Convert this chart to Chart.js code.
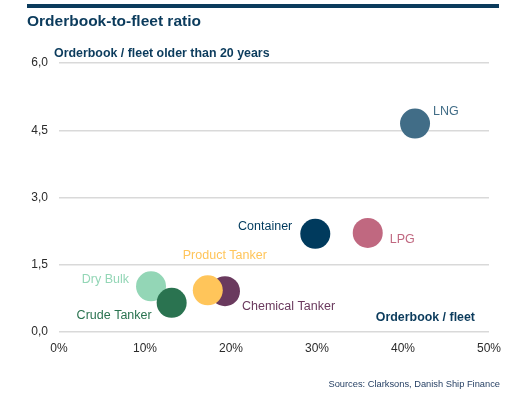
<!DOCTYPE html>
<html>
<head>
<meta charset="utf-8">
<script src="https://cdn.jsdelivr.net/npm/chart.js@4"></script>
<style>
  body { margin: 0; background: #fff; font-family: "Liberation Sans", Arial, sans-serif; }
  #wrap { position: relative; width: 523px; height: 402px; }
  #topbar { position: absolute; left: 27px; top: 4px; width: 472px; height: 4px; background: #0B3B5C; }
  #title { position: absolute; left: 27px; top: 12px; font-size: 15.5px; font-weight: bold; color: #0B3B5C; }
  #ytitle { position: absolute; left: 54px; top: 46px; font-size: 12.4px; font-weight: bold; color: #0B3B5C; }
  #xtitle { position: absolute; right: 48px; top: 310px; font-size: 12.4px; font-weight: bold; color: #0B3B5C; }
  #source { position: absolute; right: 23px; top: 379px; font-size: 9.3px; color: #1F3A5F; }
  canvas { position: absolute; left: 0; top: 0; }
</style>
</head>
<body>
<div id="wrap">
  <canvas id="chart" width="523" height="402"></canvas>
  <div id="topbar"></div>
  <div id="title">Orderbook-to-fleet ratio</div>
  <div id="ytitle">Orderbook / fleet older than 20 years</div>
  <div id="xtitle">Orderbook / fleet</div>
  <div id="source">Sources: Clarksons, Danish Ship Finance</div>
</div>
<script>
// segments, drawn in this order (later ones on top)
var segments = ["LNG", "Container", "LPG", "Dry Bulk", "Crude Tanker", "Chemical Tanker", "Product Tanker"];
var orderbookFleet = [41.4, 29.8, 35.9, 10.7, 13.1, 19.3, 17.3];      // % of fleet
var orderbookOld = [4.65, 2.19, 2.21, 1.02, 0.65, 0.91, 0.93];         // ratio to fleet older than 20y
var xTicks = [0, 10, 20, 30, 40, 50];
var yTicks = [0, 1.5, 3, 4.5, 6];

var colors = ["#416D87", "#003A5D", "#C06880", "#93D6B6", "#2A7350", "#6A3A5E", "#FFC55A"];
// label placement relative to bubble centre: [dx, dy, align]
var labelPos = [
  [18, -12, "left"],
  [-23, -7, "right"],
  [22, 7, "left"],
  [-22, -7, "right"],
  [-20, 13, "right"],
  [17, 15, "left"],
  [-25, -35, "left"]
];

var points = segments.map(function (s, i) {
  return { x: orderbookFleet[i], y: orderbookOld[i] };
});

var bubbleLabels = {
  id: "bubbleLabels",
  afterDatasetsDraw: function (chart) {
    var ctx = chart.ctx;
    var meta = chart.getDatasetMeta(0);
    ctx.save();
    ctx.font = "12.5px 'Liberation Sans', Arial, sans-serif";
    ctx.textBaseline = "middle";
    meta.data.forEach(function (pt, i) {
      ctx.fillStyle = colors[i];
      ctx.textAlign = labelPos[i][2];
      ctx.fillText(segments[i], pt.x + labelPos[i][0], pt.y + labelPos[i][1]);
    });
    ctx.restore();
  }
};

new Chart(document.getElementById("chart").getContext("2d"), {
  type: "scatter",
  data: {
    datasets: [{
      data: points,
      pointRadius: 15,
      pointHoverRadius: 15,
      pointBackgroundColor: colors,
      pointBorderWidth: 0,
      clip: false
    }]
  },
  options: {
    responsive: false,
    animation: false,
    layout: { padding: { left: 0, right: 34, top: 63, bottom: 40 } },
    plugins: { legend: { display: false }, tooltip: { enabled: false } },
    scales: {
      x: {
        type: "linear",
        min: 0, max: 50,
        afterBuildTicks: function (s) { s.ticks = xTicks.map(function (v) { return { value: v }; }); },
        afterFit: function (s) { s.height = 30; },
        grid: { display: false, drawTicks: false },
        border: { display: false },
        ticks: {
          padding: 9,
          color: "#2B2B2B",
          font: { size: 12, family: "'Liberation Sans', Arial, sans-serif" },
          callback: function (v) { return v + "%"; }
        }
      },
      y: {
        min: 0, max: 6,
        afterBuildTicks: function (s) { s.ticks = yTicks.map(function (v) { return { value: v }; }); },
        afterFit: function (s) { s.width = 59; },
        grid: { color: "#D9D9D9", lineWidth: 1.5, drawTicks: false },
        border: { display: false },
        ticks: {
          padding: 11,
          color: "#2B2B2B",
          font: { size: 12, family: "'Liberation Sans', Arial, sans-serif" },
          callback: function (v) { return v.toFixed(1).replace(".", ","); }
        }
      }
    }
  },
  plugins: [bubbleLabels]
});
</script>
</body>
</html>
